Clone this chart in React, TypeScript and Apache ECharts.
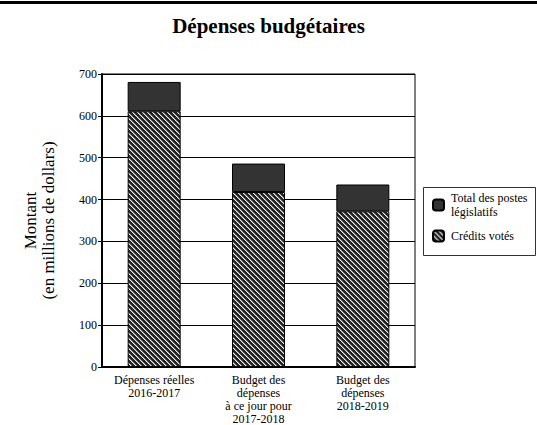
import React, { useEffect, useRef } from "react";
import * as echarts from "echarts";

const categories = [
  "Dépenses réelles\n2016-2017",
  "Budget des\ndépenses\nà ce jour pour\n2017-2018",
  "Budget des\ndépenses\n2018-2019",
];
const creditsVotes = [611, 418, 372];
const postesLegislatifs = [70, 68, 64];
const yTicks = { min: 0, max: 700, interval: 100 };

const FONT = "Liberation Serif";

function makeHatch(): HTMLCanvasElement {
  const N = 5;
  const c = document.createElement("canvas");
  c.width = N;
  c.height = N;
  const ctx = c.getContext("2d")!;
  const img = ctx.createImageData(N, N);
  for (let y = 0; y < N; y++) {
    for (let x = 0; x < N; x++) {
      const d = (((x - y) % N) + N) % N;
      let v = 35;
      if (d === 0) v = 240;
      else if (d === 1) v = 130;
      const i = (y * N + x) * 4;
      img.data[i] = v;
      img.data[i + 1] = v;
      img.data[i + 2] = v;
      img.data[i + 3] = 255;
    }
  }
  ctx.putImageData(img, 0, 0);
  return c;
}

export default function App() {
  const ref = useRef<HTMLDivElement>(null);
  useEffect(() => {
    document.body.style.margin = "0";
    const chart = echarts.init(ref.current!, null, { renderer: "svg" });
    const hatch = { image: makeHatch(), repeat: "repeat" as const };
    chart.setOption({
      animation: false,
      backgroundColor: "#fff",
      textStyle: { fontFamily: FONT, color: "#000" },
      title: {
        text: "Dépenses budgétaires",
        left: "center",
        top: 10,
        textStyle: { fontFamily: FONT, fontSize: 21, fontWeight: "bold", color: "#000" },
      },
      graphic: [
        {
          type: "line",
          shape: { x1: 0, y1: 2.5, x2: 537, y2: 2.5 },
          style: { stroke: "#000", lineWidth: 3 },
        },
        {
          type: "rect",
          shape: { x: 423.5, y: 187.5, width: 112, height: 68 },
          style: { fill: "none", stroke: "#333", lineWidth: 1 },
          z: 10,
        },
      ],
      legend: {
        orient: "vertical",
        left: 423,
        top: 187,
        padding: [4, 4, 12, 9],
        itemGap: 10,
        itemWidth: 11,
        itemHeight: 11,
        data: ["Total des postes\nlégislatifs", "Crédits votés"],
        textStyle: { fontFamily: FONT, fontSize: 12, lineHeight: 14, color: "#000", padding: [0, 0, 0, 2] },
      },
      grid: {
        left: 102,
        top: 74,
        right: 122,
        bottom: 56,
        show: true,
        borderColor: "#000",
        borderWidth: 1,
        backgroundColor: "transparent",
      },
      xAxis: {
        type: "category",
        data: categories,
        axisLine: { lineStyle: { color: "#000", width: 2 } },
        axisTick: { show: false },
        axisLabel: {
          fontFamily: FONT,
          fontSize: 12,
          lineHeight: 13,
          color: "#000",
          margin: 6,
          interval: 0,
        },
      },
      yAxis: {
        type: "value",
        min: yTicks.min,
        max: yTicks.max,
        interval: yTicks.interval,
        name: "Montant\n(en millions de dollars)",
        nameLocation: "middle",
        nameRotate: 90,
        nameGap: 45,
        nameTextStyle: { fontFamily: FONT, fontSize: 17, lineHeight: 18, color: "#000" },
        axisLine: { show: true, lineStyle: { color: "#000", width: 2 } },
        axisTick: { show: true, length: 4, lineStyle: { color: "#000" } },
        splitLine: { show: true, lineStyle: { color: "#000", width: 1 } },
        axisLabel: { fontFamily: FONT, fontSize: 12, color: "#000", margin: 5 },
      },
      series: [
        {
          name: "Crédits votés",
          type: "bar",
          stack: "total",
          barWidth: 53,
          data: creditsVotes,
          itemStyle: { color: hatch, borderColor: "#000", borderWidth: 1 },
        },
        {
          name: "Total des postes\nlégislatifs",
          type: "bar",
          stack: "total",
          barWidth: 53,
          data: postesLegislatifs,
          itemStyle: { color: "#333333", borderColor: "#000", borderWidth: 1 },
        },
      ],
    });
    return () => chart.dispose();
  }, []);
  return <div ref={ref} style={{ width: 537, height: 425 }} />;
}
